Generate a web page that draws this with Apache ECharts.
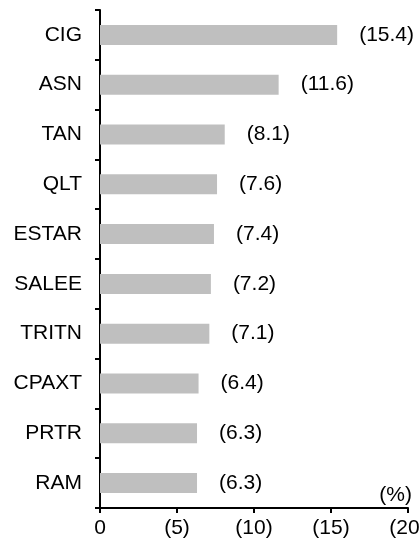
<!DOCTYPE html>
<html><head><meta charset="utf-8">
<script src="https://cdn.jsdelivr.net/npm/echarts@6/dist/echarts.min.js"></script>
<style>html,body{margin:0;padding:0;background:#fff}#c{width:419px;height:543px}</style>
</head><body><div id="c"></div>
<script>
var categories = ['CIG','ASN','TAN','QLT','ESTAR','SALEE','TRITN','CPAXT','PRTR','RAM'];
var values = [15.4, 11.6, 8.1, 7.6, 7.4, 7.2, 7.1, 6.4, 6.3, 6.3];
var unitLabel = '(%)';
var FONT = '"Liberation Sans", Arial, sans-serif';
var chart = echarts.init(document.getElementById('c'));
chart.setOption({
  animation: false,
  backgroundColor: '#fff',
  grid: {left: 100, right: 11, top: 10, bottom: 35, containLabel: false, outerBoundsMode: 'none'},
  xAxis: {
    type: 'value', min: 0, max: 20, interval: 5,
    splitLine: {show: false},
    axisLine: {show: true, lineStyle: {color: '#000', width: 2}},
    axisTick: {show: true, length: 5, lineStyle: {color: '#000', width: 2}},
    axisLabel: {color: '#000', fontSize: 21, fontFamily: FONT, margin: 10,
      formatter: function(v){ return v === 0 ? '0' : '(' + v + ')'; }}
  },
  yAxis: {
    type: 'category', data: categories, inverse: true,
    axisLine: {show: true, lineStyle: {color: '#000', width: 2}},
    axisTick: {show: true, length: 5, lineStyle: {color: '#000', width: 2}},
    axisLabel: {color: '#000', fontSize: 21, fontFamily: FONT, margin: 18}
  },
  series: [{
    type: 'bar', data: values, barWidth: 20,
    itemStyle: {color: '#bfbfbf'},
    label: {show: true, position: 'right', distance: 22, color: '#000', fontSize: 21, fontFamily: FONT,
      formatter: function(p){ return '(' + p.value.toFixed(1) + ')'; }}
  }],
  graphic: [{
    type: 'text', right: 7, top: 485,
    style: {text: unitLabel, fill: '#000', fontSize: 21, fontFamily: FONT}
  }]
});
</script></body></html>
